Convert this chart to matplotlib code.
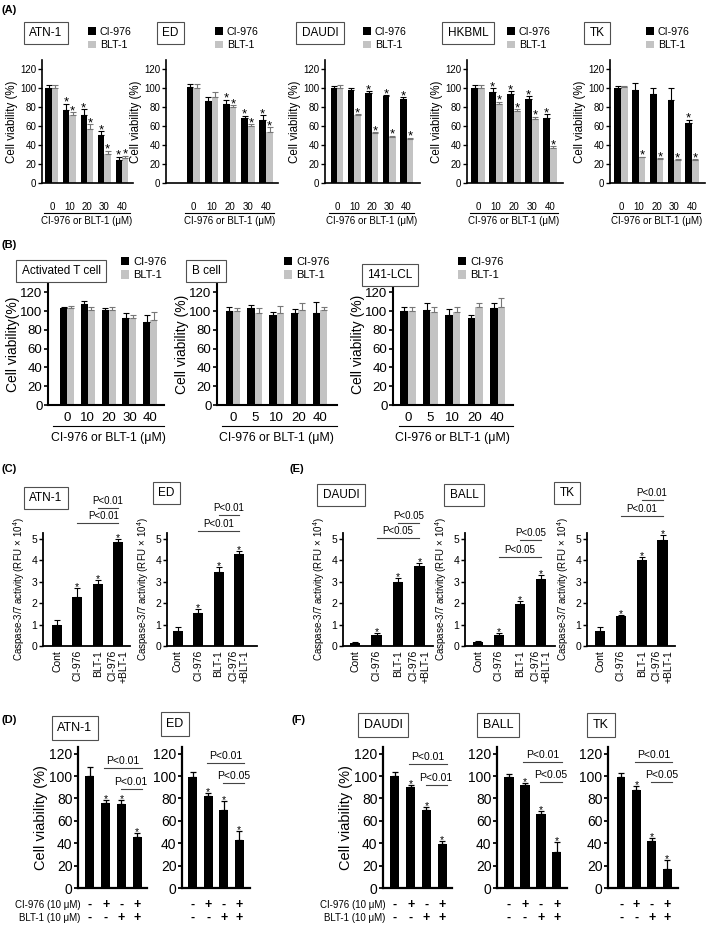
import matplotlib.pyplot as plt
import numpy as np

plt.rcParams['font.family'] = ['Liberation Sans', 'DejaVu Sans']
plt.rcParams['mathtext.fontset'] = 'custom'
plt.rcParams['mathtext.rm'] = 'Liberation Sans'

GRAY = '#c3c3c3'
BOXEDGE = '#505050'

# ---------------- data ----------------
# (A) dose response of 5 cell lines
a_cells = ['ATN-1', 'ED', 'DAUDI', 'HKBML', 'TK']
a_doses = ['0', '10', '20', '30', '40']
a_cl = [[100, 77, 72, 51, 24], [101, 87, 84, 69, 67], [100, 98, 95, 92, 89],
        [100, 96, 94, 89, 69], [100, 98, 94, 88, 63]]
a_cl_err = [[4, 7, 6, 4, 4], [4, 4, 4, 2, 5], [2, 2, 2, 1, 2],
            [4, 4, 3, 3, 4], [2, 8, 6, 12, 4]]
a_blt = [[100, 72, 57, 31, 26], [100, 91, 80, 60, 54], [100, 72, 53, 49, 47],
         [100, 83, 76, 68, 37], [101, 27, 25, 24, 24]]
a_blt_err = [[4, 3, 5, 3, 3], [5, 5, 2, 2, 5], [4, 1, 1, 1, 1],
             [4, 3, 2, 2, 2], [1, 1, 1, 1, 1]]
a_cl_sig = [[0, 1, 1, 1, 1], [0, 0, 1, 1, 1], [0, 0, 1, 1, 1], [0, 1, 1, 1, 1], [0, 0, 0, 0, 1]]
a_blt_sig = [[0, 1, 1, 1, 1], [0, 0, 1, 1, 1], [0, 1, 1, 1, 1], [0, 1, 1, 1, 1], [0, 1, 1, 1, 1]]

# (B) normal cells
b_cells = ['Activated T cell', 'B cell', '141-LCL']
b_doses = [['0', '10', '20', '30', '40'], ['0', '5', '10', '20', '40'], ['0', '5', '10', '20', '40']]
b_cl = [[103, 108, 101, 93, 89], [100, 103, 96, 98, 98], [100, 101, 96, 93, 103]]
b_cl_err = [[2, 3, 2, 5, 7], [5, 4, 3, 4, 12], [4, 8, 6, 3, 6]]
b_blt = [[103, 101, 101, 93, 91], [100, 98, 98, 101, 101], [100, 99, 99, 104, 105]]
b_blt_err = [[3, 3, 3, 3, 8], [3, 5, 8, 8, 4], [4, 5, 6, 5, 9]]
b_ylabels = ['Cell viability(%)', 'Cell viability (%)', 'Cell viability (%)']

# (C)/(E) caspase-3/7 activity
c_groups = ['Cont', 'CI-976', 'BLT-1', 'CI-976\n+BLT-1']
c_cells = ['ATN-1', 'ED', 'DAUDI', 'BALL', 'TK']
c_vals = [[1.0, 2.3, 2.9, 4.85], [0.7, 1.52, 3.45, 4.27], [0.15, 0.5, 3.0, 3.73],
          [0.18, 0.5, 1.95, 3.1], [0.7, 1.38, 4.0, 4.95]]
c_err = [[0.22, 0.38, 0.18, 0.15], [0.17, 0.18, 0.25, 0.15], [0.03, 0.1, 0.18, 0.15],
         [0.03, 0.1, 0.15, 0.22], [0.17, 0.08, 0.15, 0.2]]
c_sig = [0, 1, 1, 1]
c_p = ['P<0.01', 'P<0.01', 'P<0.05', 'P<0.05', 'P<0.01']
c_p_y = [(6.42, 5.72), (6.09, 5.35), (5.72, 5.02), (4.93, 4.14), (6.79, 6.05)]

# (D)/(F) combination viability
d_cells = ['ATN-1', 'ED', 'DAUDI', 'BALL', 'TK']
d_cl_sign = ['-', '+', '-', '+']
d_blt_sign = ['-', '-', '+', '+']
d_vals = [[100, 76, 75, 46], [99, 82, 70, 43], [100, 90, 70, 39], [99, 92, 66, 32], [99, 88, 42, 17]]
d_err = [[8, 3, 4, 3], [5, 3, 8, 8], [4, 2, 2, 3], [3, 2, 3, 9], [4, 3, 3, 8]]
d_sig = [0, 1, 1, 1]
d_p_upper = ['P<0.01'] * 5
d_p_lower = ['P<0.01', 'P<0.05', 'P<0.01', 'P<0.05', 'P<0.05']
d_p_y = [(107, 88.4), (111.6, 93.7), (110.7, 92), (112.5, 94.6), (112.5, 94.6)]

# ---------------- figure ----------------
W, H = 709, 932
fig = plt.figure(figsize=(W / 100, H / 100), dpi=100)


def px_axes(x0, x1, y0, y1):
    return fig.add_axes([x0 / W, 1 - y1 / H, (x1 - x0) / W, (y1 - y0) / H])


def style(ax, lw, size):
    ax.spines[['top', 'right']].set_visible(False)
    for s in ['left', 'bottom']:
        ax.spines[s].set_linewidth(lw)
    ax.tick_params(axis='y', length=3, width=lw * 0.8, labelsize=size, pad=1)
    ax.tick_params(axis='x', length=0)


def star(ax, x, y, fs):
    ax.annotate('*', (x, y), xytext=(0, -1.5), textcoords='offset points',
                ha='center', va='baseline', fontsize=fs, annotation_clip=False)


def bracket(ax, i, j, y, label, fs, dx=0):
    ax.plot([i, j], [y, y], color='#444444', lw=0.8, clip_on=False)
    ax.annotate(label, ((i + j) / 2 + dx, y), xytext=(0, 1.5), textcoords='offset points',
                ha='center', va='bottom', fontsize=fs, annotation_clip=False)


def box_label(x, y, s, fs):
    fig.text(x / W, 1 - y / H, s, ha='center', va='center', fontsize=fs,
             bbox=dict(boxstyle='square,pad=0.45', fc='white', ec=BOXEDGE, lw=0.8))


def legend(ax, x, y, fs):
    ax.legend(loc='upper left', bbox_to_anchor=(x / W, 1 - y / H), bbox_transform=fig.transFigure,
              frameon=False, fontsize=fs, handlelength=0.75, handleheight=0.75,
              handletextpad=0.35, labelspacing=0.3, borderpad=0, borderaxespad=0)


def grouped(ax, cl, cle, blt, blte, w, fs_star, cls=None, blts=None):
    x = np.arange(len(cl))
    ax.bar(x - w / 2, cl, w, color='black', label='CI-976')
    ax.bar(x + w / 2, blt, w, color=GRAY, label='BLT-1')
    ax.errorbar(x - w / 2, cl, yerr=[np.zeros(len(cl)), cle], fmt='none', ecolor='black',
                elinewidth=0.8, capsize=2, capthick=0.8)
    ax.errorbar(x + w / 2, blt, yerr=[np.zeros(len(blt)), blte], fmt='none', ecolor='#777777',
                elinewidth=0.8, capsize=2, capthick=0.8)
    if cls is not None:
        for xi, v, e, s in zip(x - w / 2, cl, cle, cls):
            if s:
                star(ax, xi, v + e, fs_star)
        for xi, v, e, s in zip(x + w / 2, blt, blte, blts):
            if s:
                star(ax, xi, v + e, fs_star)
    return x


# panel letters
for s, (px, py) in zip(['(A)', '(B)', '(C)', '(E)', '(D)', '(F)'],
                       [(9, 10), (9, 245), (9, 469), (297, 469), (9, 720), (298, 720)]):
    fig.text(px / W, 1 - py / H, s, ha='center', va='center', fontsize=8, fontweight='bold')

# ---------------- (A) ----------------
a_layout = [(42, 133, (-0.57, 4.63)), (166, 278, (-1.5, 4.65)), (325, 420, (-0.69, 4.77)),
            (467, 563, (-0.61, 4.72)), (610, 705, (-0.62, 4.73))]
a_box = [46, 170, 320, 468, 597]
a_leg = [88, 215, 363, 507, 646]
a_top, a_bot = 60, 183
for k in range(5):
    x0, x1, xl = a_layout[k]
    ax = px_axes(x0, x1, a_top, a_bot)
    x = grouped(ax, a_cl[k], a_cl_err[k], a_blt[k], a_blt_err[k], 0.37, 9.5, a_cl_sig[k], a_blt_sig[k])
    ax.set_xlim(xl)
    ax.set_ylim(0, 130)
    ax.set_yticks(np.arange(0, 121, 20))
    ax.set_xticks(x, a_doses)
    style(ax, 1.2, 7)
    ax.tick_params(axis='x', pad=14, labelsize=7)
    ax.set_ylabel('Cell viability (%)', fontsize=8.3, labelpad=2)
    hgt = a_bot - a_top
    ax.plot([-0.45, 4.45], [(a_bot - 213) / hgt] * 2, color='black', lw=0.8,
            transform=ax.get_xaxis_transform(), clip_on=False)
    ax.text(2, (a_bot - 221) / hgt, 'CI-976 or BLT-1 (μM)', transform=ax.get_xaxis_transform(),
            ha='center', va='center', fontsize=7)
    box_label(a_box[k], 33, a_cells[k], 8.5)
    legend(ax, a_leg[k], 27, 7.7)

# ---------------- (B) ----------------
b_layout = [(48, 164, (-0.92, 4.67)), (217, 337, (-0.74, 4.78)), (393, 513, (-0.67, 4.69))]
b_box = [61, 206, 390]
b_box_y = [271, 271, 275]
b_leg = [121, 284, 458]
b_top, b_bot = 284, 405
for k in range(3):
    x0, x1, xl = b_layout[k]
    ax = px_axes(x0, x1, b_top, b_bot)
    x = grouped(ax, b_cl[k], b_cl_err[k], b_blt[k], b_blt_err[k], 0.34, 8)
    ax.set_xlim(xl)
    ax.set_ylim(0, 129)
    ax.set_yticks(np.arange(0, 121, 20))
    ax.set_xticks(x, b_doses[k])
    style(ax, 1.5, 9.5)
    ax.tick_params(axis='x', pad=5, labelsize=9.5)
    ax.set_ylabel(b_ylabels[k], fontsize=10, labelpad=0)
    hgt = b_bot - b_top
    ax.plot([xl[0] + 0.25, xl[1]], [(b_bot - 426) / hgt] * 2, color='black', lw=0.8,
            transform=ax.get_xaxis_transform(), clip_on=False)
    ax.text(2, (b_bot - 438) / hgt, 'CI-976 or BLT-1 (μM)', transform=ax.get_xaxis_transform(),
            ha='center', va='center', fontsize=8.8)
    box_label(b_box[k], b_box_y[k], b_cells[k], 8.5)
    legend(ax, b_leg[k], 257, 8)

# ---------------- (C)/(E) ----------------
c_layout = [(43, 130, (-0.69, 3.59)), (167, 257, (-0.54, 3.89)), (343, 433, (-0.56, 3.63)),
            (465, 555, (-0.62, 3.67)), (587, 675, (-0.63, 3.6))]
c_box = [(46, 498), (166, 493), (341, 495), (464, 495), (567, 493)]
c_top, c_bot = 533, 646
for k in range(5):
    x0, x1, xl = c_layout[k]
    ax = px_axes(x0, x1, c_top, c_bot)
    x = np.arange(4)
    ax.bar(x, c_vals[k], 0.5, color='black')
    ax.errorbar(x, c_vals[k], yerr=[np.zeros(4), c_err[k]], fmt='none', ecolor='black',
                elinewidth=0.8, capsize=2.5, capthick=0.8)
    for xi, v, e, s in zip(x, c_vals[k], c_err[k], c_sig):
        if s:
            star(ax, xi, v + e, 7.5)
    ax.set_xlim(xl)
    ax.set_ylim(0, 5.26)
    ax.set_yticks(range(6))
    ax.set_xticks(x, c_groups, rotation=90)
    for t in ax.get_xticklabels():
        t.set_multialignment('right')
    style(ax, 1.3, 7.5)
    ax.tick_params(axis='x', pad=3, labelsize=7.5)
    ax.set_ylabel('Caspase-3/7 activity (RFU × 10$^{4}$)', fontsize=7, labelpad=3)
    up, lo = c_p_y[k]
    bracket(ax, 2, 3, up, c_p[k], 7)
    bracket(ax, 1, 3, lo, c_p[k], 7, dx=0.3 if k == 0 else 0)
    box_label(c_box[k][0], c_box[k][1], c_cells[k], 8.5)

# ---------------- (D)/(F) ----------------
d_layout = [(78, 147, (-0.76, 3.63)), (182, 250, (-0.7, 3.7)), (383, 452, (-0.76, 3.63)),
            (497, 567, (-0.75, 3.63)), (608, 678, (-0.85, 3.7))]
d_box = [(75, 728), (175, 724), (383, 725), (498, 725), (601, 725)]
d_top, d_bot = 747, 888
for k in range(5):
    x0, x1, xl = d_layout[k]
    ax = px_axes(x0, x1, d_top, d_bot)
    x = np.arange(4)
    ax.bar(x, d_vals[k], 0.57, color='black')
    ax.errorbar(x, d_vals[k], yerr=[np.zeros(4), d_err[k]], fmt='none', ecolor='black',
                elinewidth=0.9, capsize=2.5, capthick=0.9)
    for xi, v, e, s in zip(x, d_vals[k], d_err[k], d_sig):
        if s:
            star(ax, xi, v + e, 7.5)
    ax.set_xlim(xl)
    ax.set_ylim(0, 126)
    ax.set_yticks(np.arange(0, 121, 20))
    ax.set_xticks([])
    style(ax, 1.6, 10)
    if k in (0, 2):
        ax.set_ylabel('Cell viability (%)', fontsize=10.5, labelpad=1)
    hgt = d_bot - d_top
    tr = ax.get_xaxis_transform()
    for xi, s1, s2 in zip(x, d_cl_sign, d_blt_sign):
        ax.text(xi, (d_bot - 905) / hgt, s1, transform=tr, ha='center', va='center',
                fontsize=9, fontweight='bold')
        ax.text(xi, (d_bot - 918) / hgt, s2, transform=tr, ha='center', va='center',
                fontsize=9, fontweight='bold')
    if k in (0, 2):
        ax.text(-0.6, (d_bot - 905) / hgt, 'CI-976 (10 μM)', transform=tr, ha='right',
                va='center', fontsize=7)
        ax.text(-0.6, (d_bot - 918) / hgt, 'BLT-1 (10 μM)', transform=tr, ha='right',
                va='center', fontsize=7)
    up, lo = d_p_y[k]
    bracket(ax, 0.9, 3.3, up, d_p_upper[k], 7.5)
    bracket(ax, 1.95, 3.3, lo, d_p_lower[k], 7.5)
    box_label(d_box[k][0], d_box[k][1], d_cells[k], 9)

fig.savefig('out.png', dpi=100)
